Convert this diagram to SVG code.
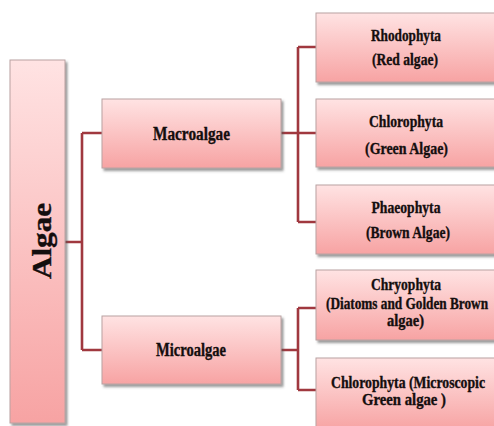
<svg xmlns="http://www.w3.org/2000/svg" width="494" height="426" viewBox="0 0 494 426">
<defs>
<linearGradient id="g" x1="0" y1="0" x2="0" y2="1">
<stop offset="0" stop-color="#ffe3e3"/>
<stop offset="1" stop-color="#f7a3a3"/>
</linearGradient>
<filter id="sh" x="-10%" y="-10%" width="130%" height="130%">
<feDropShadow dx="2" dy="2.5" stdDeviation="1.3" flood-color="#555" flood-opacity="0.6"/>
</filter>
<style>
.box{fill:url(#g);stroke:#b9a2a2;stroke-width:1;filter:url(#sh)}
.t{font-family:"Liberation Serif","Times New Roman",serif;font-weight:bold;fill:#140e0e;stroke:#140e0e;stroke-width:0.35;text-anchor:middle}
.c{stroke:#a0383f;stroke-width:2.6;fill:none}
</style>
</defs>
<rect width="494" height="426" fill="#ffffff"/>
<g id="connectors">
<path class="c" d="M65,242 H82 M82,133 V350 M82,133 H102 M82,350 H102"/>
<path class="c" d="M281,133 H298 M298,47 V222 M298,47 H316 M298,133 H316 M298,222 H316"/>
<path class="c" d="M281,350 H298 M298,308 V390 M298,308 H316 M298,390 H316"/>
</g>
<g id="algae">
<rect class="box" x="10" y="60" width="55" height="363"/>
<text class="t" font-size="27" transform="translate(51,241) rotate(-90)" textLength="76" lengthAdjust="spacingAndGlyphs">Algae</text>
</g>
<g id="macroalgae">
<rect class="box" x="102" y="99" width="179" height="69"/>
<text class="t" font-size="18" x="191.5" y="140" textLength="77" lengthAdjust="spacingAndGlyphs">Macroalgae</text>
</g>
<g id="microalgae">
<rect class="box" x="102" y="316" width="179" height="68"/>
<text class="t" font-size="18" x="191" y="356" textLength="70" lengthAdjust="spacingAndGlyphs">Microalgae</text>
</g>
<g id="rhodophyta">
<rect class="box" x="316" y="13" width="182" height="69"/>
<text class="t" font-size="17" x="406" y="41" textLength="70" lengthAdjust="spacingAndGlyphs">Rhodophyta</text>
<text class="t" font-size="17" x="405" y="65" textLength="66" lengthAdjust="spacingAndGlyphs">(Red algae)</text>
</g>
<g id="chlorophyta">
<rect class="box" x="316" y="99" width="182" height="68"/>
<text class="t" font-size="17" x="406" y="127" textLength="74" lengthAdjust="spacingAndGlyphs">Chlorophyta</text>
<text class="t" font-size="17" x="406.5" y="154" textLength="83" lengthAdjust="spacingAndGlyphs">(Green Algae)</text>
</g>
<g id="phaeophyta">
<rect class="box" x="316" y="185" width="182" height="69"/>
<text class="t" font-size="17" x="406" y="213" textLength="69" lengthAdjust="spacingAndGlyphs">Phaeophyta</text>
<text class="t" font-size="17" x="408" y="238" textLength="84" lengthAdjust="spacingAndGlyphs">(Brown Algae)</text>
</g>
<g id="chryophyta">
<rect class="box" x="316" y="270" width="182" height="70"/>
<text class="t" font-size="17" x="406" y="290" textLength="70" lengthAdjust="spacingAndGlyphs">Chryophyta</text>
<text class="t" font-size="16" x="407" y="309" textLength="162" lengthAdjust="spacingAndGlyphs">(Diatoms and Golden Brown</text>
<text class="t" font-size="16" x="405.5" y="326" textLength="37" lengthAdjust="spacingAndGlyphs">algae)</text>
</g>
<g id="chlorophyta-micro">
<rect class="box" x="316" y="358" width="182" height="72"/>
<text class="t" font-size="16" x="408" y="388" textLength="154" lengthAdjust="spacingAndGlyphs">Chlorophyta (Microscopic</text>
<text class="t" font-size="16" x="404" y="405" textLength="84" lengthAdjust="spacingAndGlyphs">Green algae )</text>
</g>
</svg>
